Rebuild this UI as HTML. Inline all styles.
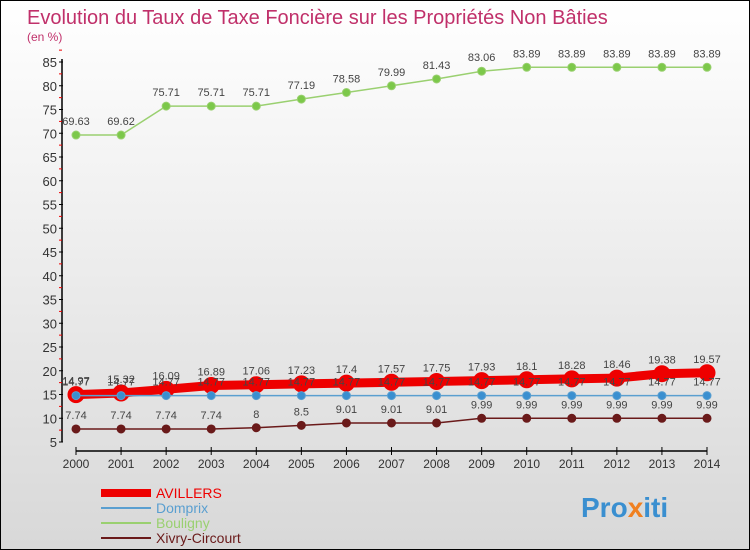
<!DOCTYPE html>
<html><head><meta charset="utf-8"><style>
body{margin:0;width:750px;height:550px;overflow:hidden;font-family:"Liberation Sans",sans-serif}
#c{position:absolute;left:0;top:0;width:748px;height:548px;border:1px solid #000;background:linear-gradient(#fff,#d8d8d8)}
</style></head><body>
<div id="c">
<svg id="s" width="748" height="548" style="position:absolute;left:0;top:0">
<text x="26" y="23" font-size="20" fill="#c0306a">Evolution du Taux de Taxe Foncière sur les Propriétés Non Bâties</text>
<text x="26" y="40" font-size="12" fill="#c0306a">(en %)</text>
<g id="g"></g>
<text x="580" y="516" font-size="28" font-weight="bold" fill="#3a8fd0">Pro<tspan fill="#f08020">x</tspan>iti</text>
</svg>
</div>
<script>
const years=[2000,2001,2002,2003,2004,2005,2006,2007,2008,2009,2010,2011,2012,2013,2014];
const avillers=[14.97,15.32,16.09,16.89,17.06,17.23,17.4,17.57,17.75,17.93,18.1,18.28,18.46,19.38,19.57];
const domprix=[14.77,14.77,14.77,14.77,14.77,14.77,14.77,14.77,14.77,14.77,14.77,14.77,14.77,14.77,14.77];
const bouligny=[69.63,69.62,75.71,75.71,75.71,77.19,78.58,79.99,81.43,83.06,83.89,83.89,83.89,83.89,83.89];
const xivry=[7.74,7.74,7.74,7.74,8,8.5,9.01,9.01,9.01,9.99,9.99,9.99,9.99,9.99,9.99];
const yTicks=[5,10,15,20,25,30,35,40,45,50,55,60,65,70,75,80,85];
const ns="http://www.w3.org/2000/svg";
const g=document.getElementById('g');
const X=i=>75+i*(706-75)/14;
const Y=v=>441-(v-5)*380/80;
function el(t,a,p){const e=document.createElementNS(ns,t);for(const k in a)e.setAttribute(k,a[k]);(p||g).appendChild(e);return e;}
let ax=el('line',{x1:61,y1:58,x2:61,y2:441,stroke:'#000','stroke-width':1.5});


let xa=el('line',{x1:75,y1:450,x2:706,y2:450,stroke:'#000','stroke-width':1.5});


yTicks.forEach(v=>{
 el('line',{x1:58,x2:62,y1:Y(v),y2:Y(v),stroke:'#000'});
 el('line',{x1:58,x2:61,y1:Y(v+2.5),y2:Y(v+2.5),stroke:'#e00'});
 const t=el('text',{x:56,y:Y(v)+5,'text-anchor':'end','font-size':13,fill:'#333'});
 
 
 t.textContent=v;
});
years.forEach((yr,i)=>{
 el('line',{x1:X(i),x2:X(i),y1:446,y2:454,stroke:'#000'});
 const t=el('text',{x:X(i),y:467,'text-anchor':'middle','font-size':12,fill:'#333'});
 
 
 t.textContent=yr;
});
function series(data,color,w,r,dot,name){
 const p=el('polyline',{points:data.map((v,i)=>X(i)+','+Y(v)).join(' '),fill:'none',stroke:color,'stroke-width':w});
 
 
 data.forEach((v,i)=>{
  const c=el('circle',{cx:X(i),cy:Y(v),r:r,fill:dot,stroke:color,'stroke-width':1});
  
  
  const t=el('text',{x:X(i),y:Y(v)-10,'text-anchor':'middle','font-size':11,fill:'#444'});
  
  
  t.textContent=v;
 });
}
series(xivry,'#6a1a1a',1.5,4,'#6a1a1a','xivry');
series(avillers,'#ee0000',9,8,'#ee0000','avillers');
series(domprix,'#5a9fd0',1.5,4,'#3a8fd0','domprix');
series(bouligny,'#9ad070',1.5,4,'#7cc84a','bouligny');
const leg=[['AVILLERS','#ee0000',8],['Domprix','#5a9fd0',2],['Bouligny','#9ad070',2],['Xivry-Circourt','#6a1a1a',2]];
leg.forEach((l,i)=>{
 const y=492+i*15;
 const ln=el('line',{x1:100,x2:150,y1:y,y2:y,stroke:l[1],'stroke-width':l[2]});
 
 
 const t=el('text',{x:155,y:y+5,'font-size':14,fill:l[1]});
 
 
 t.textContent=l[0];
});
</script>
</body></html>
